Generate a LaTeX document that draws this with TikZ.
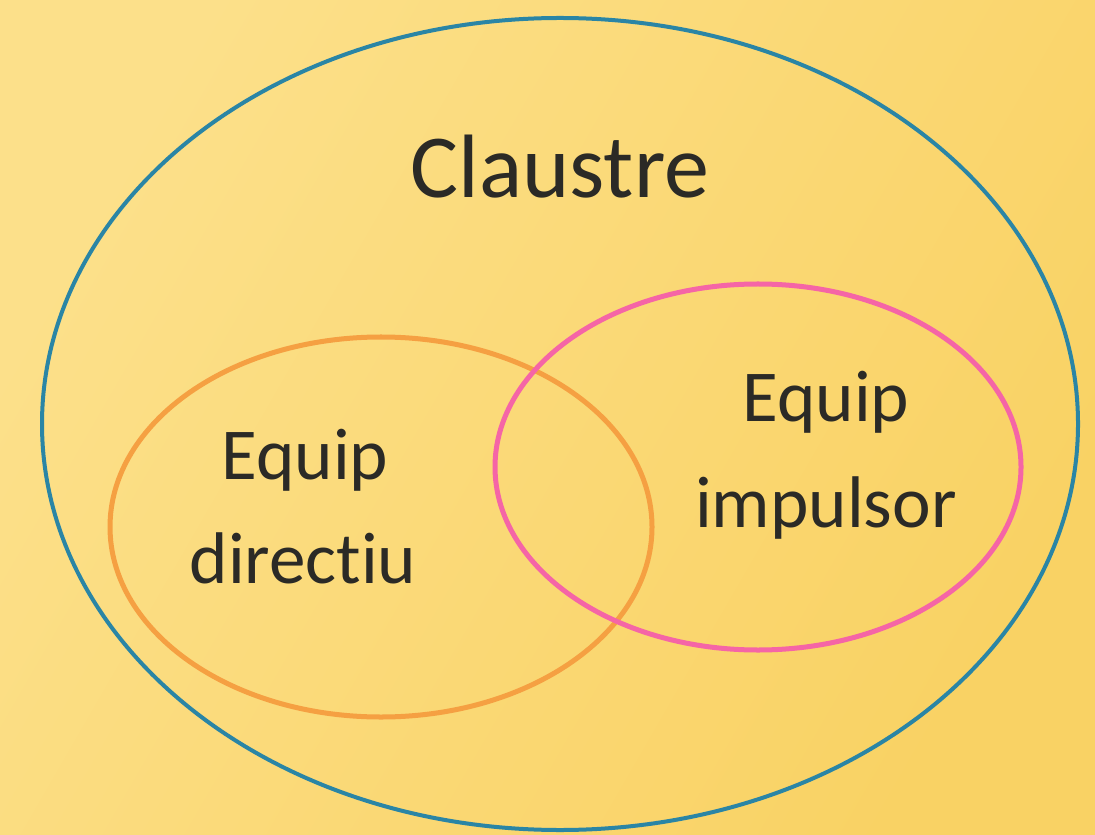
\documentclass[tikz,border=0pt]{standalone}
\usepackage{fontspec}
\setmainfont{Carlito}[Ligatures=NoCommon]
\definecolor{bgA}{HTML}{FCE08A}
\definecolor{bgB}{HTML}{F9D264}
\definecolor{claustreblue}{HTML}{2A85A5}
\definecolor{dirorange}{HTML}{F5A042}
\definecolor{imppink}{HTML}{F565A6}
\definecolor{txt}{HTML}{2B2A26}
\tikzset{
  ring/.style={line width=#1},
  lbl/.style={anchor=base, inner sep=0pt, text=txt},
  big/.style={lbl, font=\fontsize{25.6pt}{30pt}\selectfont},
  mid/.style={lbl, font=\fontsize{20.8pt}{25pt}\selectfont},
}
\begin{document}
\begin{tikzpicture}[x=0.01cm, y=-0.01cm]
\shade[left color=bgA, right color=bgB, shading angle=60] (0,0) rectangle (1095,834);
\useasboundingbox (0,0) rectangle (1095,834);
\draw[ring=0.04cm, claustreblue] (560,424) ellipse [x radius=518, y radius=406];
\draw[ring=0.05cm, dirorange] (381,527) ellipse [x radius=271, y radius=190];
\draw[ring=0.05cm, imppink] (758,467) ellipse [x radius=263, y radius=183];
\node[big] (claustre) at (560,198) {Claustre};
\node[mid] (dir1) at (305,479) {Equip};
\node[mid] (dir2) at (303,583) {directiu};
\node[mid] (imp1) at (826,422) {Equip};
\node[mid] (imp2) at (826,527) {impulsor};
\end{tikzpicture}
\end{document}
